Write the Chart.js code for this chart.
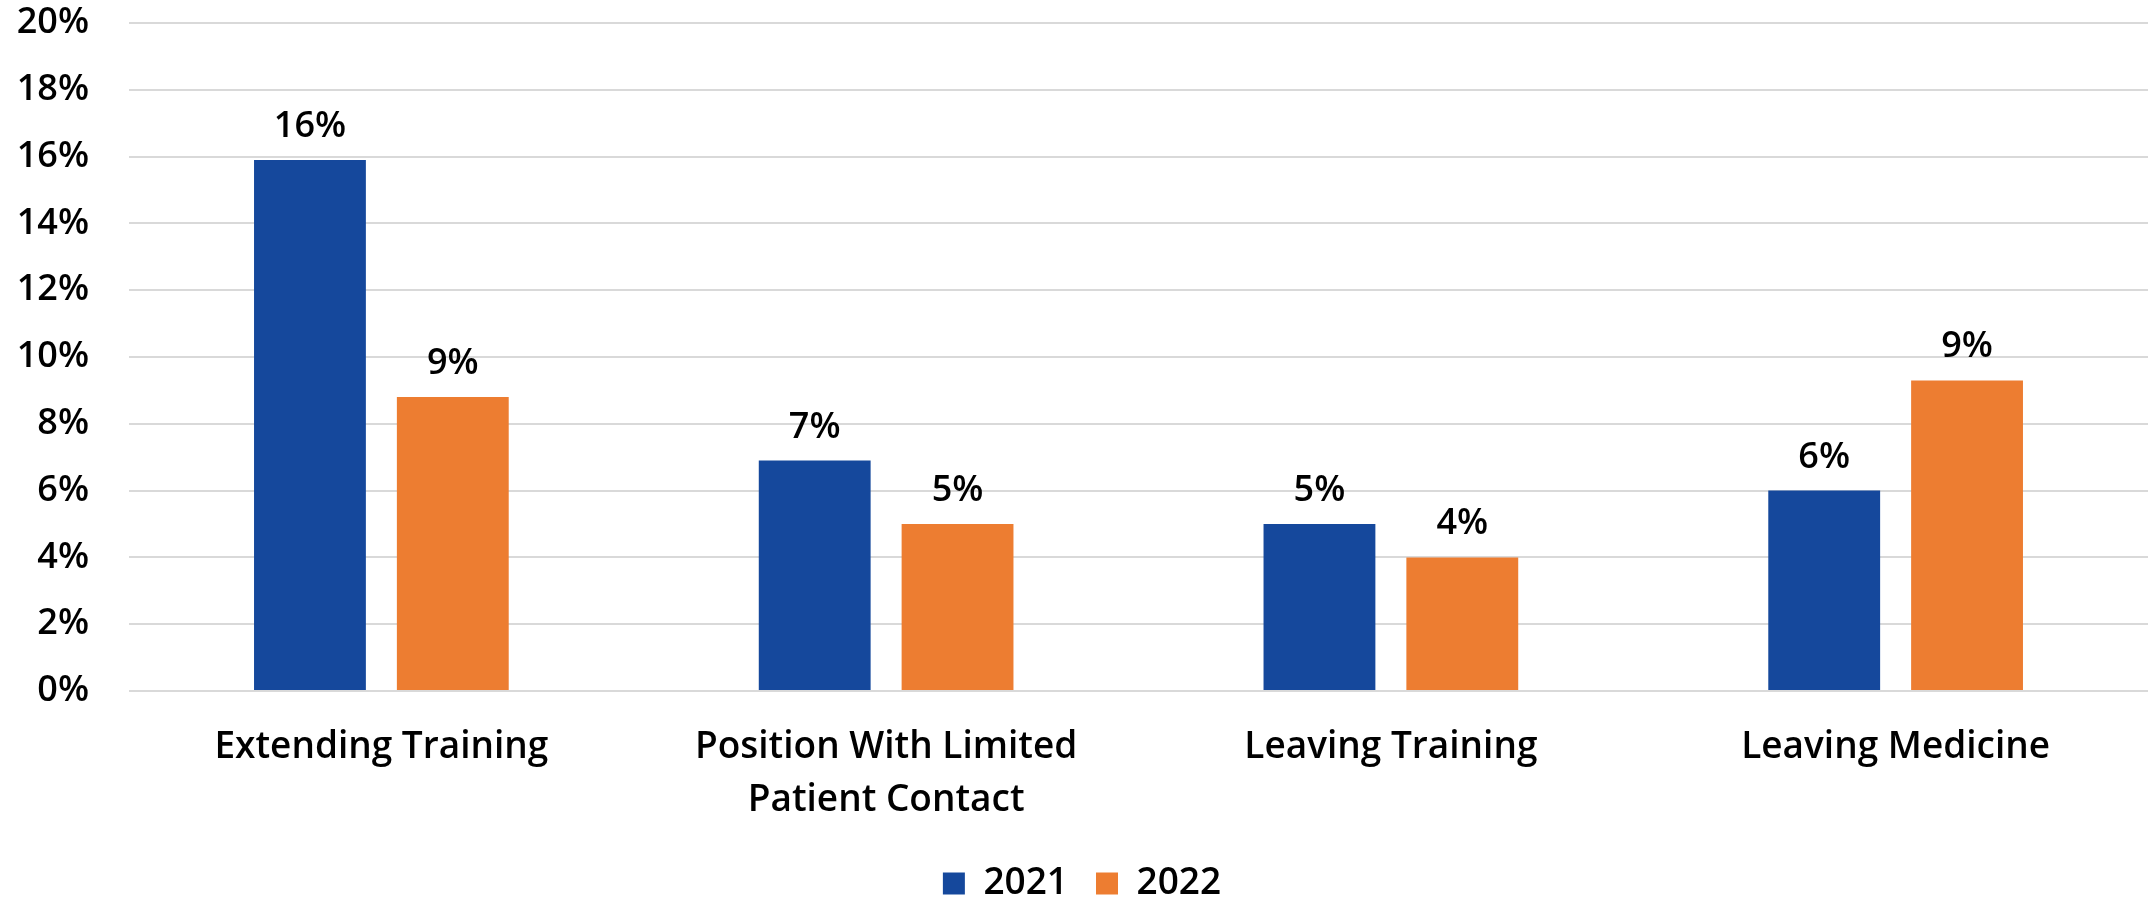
<!DOCTYPE html>
<html>
<head>
<meta charset="utf-8">
<script src="https://cdn.jsdelivr.net/npm/chart.js@4.4.1/dist/chart.umd.min.js"></script>
<style>
  html, body { margin: 0; padding: 0; background: #ffffff; }
  #wrap { width: 2148px; height: 900px; position: relative; }
</style>
</head>
<body>
<div id="wrap"><canvas id="chart"></canvas></div>
<script>
/* ── DATA ─────────────────────────────────────────────── */
const categories = [
    'Extending Training',
    ['Position With Limited', 'Patient Contact'],
    'Leaving Training',
    'Leaving Medicine'
];
const seriesNames = ['2021', '2022'];
const values2021 = [15.9, 6.9, 5.0, 6.0];
const values2022 = [8.8, 5.0, 4.0, 9.3];
const yTicks = [0, 2, 4, 6, 8, 10, 12, 14, 16, 18, 20];

const BLUE = '#15489c';
const ORANGE = '#ed7d31';
const FONT = "'Open Sans', 'Noto Sans', sans-serif";

/* ── value labels above bars ── */
const barLabels = {
    id: 'barLabels',
    afterDatasetsDraw(chart) {
        const ctx = chart.ctx;
        ctx.save();
        ctx.font = `600 36px ${FONT}`;
        ctx.fillStyle = '#000000';
        ctx.textAlign = 'center';
        ctx.textBaseline = 'alphabetic';
        chart.data.datasets.forEach((ds, i) => {
            chart.getDatasetMeta(i).data.forEach((bar, j) => {
                const txt = Math.round(ds.data[j]) + '%';
                ctx.fillText(txt, bar.x, bar.y - 23);
            });
        });
        ctx.restore();
    }
};

new Chart(document.getElementById('chart'), {
    type: 'bar',
    data: {
        labels: categories,
        datasets: [
            { label: seriesNames[0], data: values2021, backgroundColor: BLUE },
            { label: seriesNames[1], data: values2022, backgroundColor: ORANGE }
        ]
    },
    options: {
        responsive: true,
        maintainAspectRatio: false,
        animation: false,
        categoryPercentage: 0.566,
        barPercentage: 0.783,
        layout: { padding: { left: 16, right: 0, top: 23, bottom: -12 } },
        plugins: {
            tooltip: { enabled: false },
            legend: {
                position: 'bottom',
                labels: {
                    color: '#000000',
                    font: { family: FONT, size: 37, weight: '600' },
                    boxWidth: 22,
                    boxHeight: 22,
                    padding: 28
                }
            }
        },
        scales: {
            x: {
                afterFit(axis) { axis.height = 146; },
                grid: { display: false, drawTicks: false },
                border: { display: false },
                ticks: {
                    color: '#000000',
                    padding: 30,
                    maxRotation: 0,
                    autoSkip: false,
                    font: { family: FONT, size: 37, weight: '600', lineHeight: 1.43 }
                }
            },
            y: {
                min: 0,
                max: 20,
                afterBuildTicks(axis) { axis.ticks = yTicks.map(v => ({ value: v })); },
                afterFit(axis) { axis.width = 113; },
                grid: { color: '#d9d9d9', lineWidth: 2, drawTicks: true, tickLength: 40, tickColor: 'rgba(0,0,0,0)' },
                border: { display: false },
                ticks: {
                    color: '#000000',
                    padding: 0,
                    font: { family: FONT, size: 36, weight: '600' },
                    callback: v => v + '%'
                }
            }
        }
    },
    plugins: [barLabels]
});
</script>
</body>
</html>
